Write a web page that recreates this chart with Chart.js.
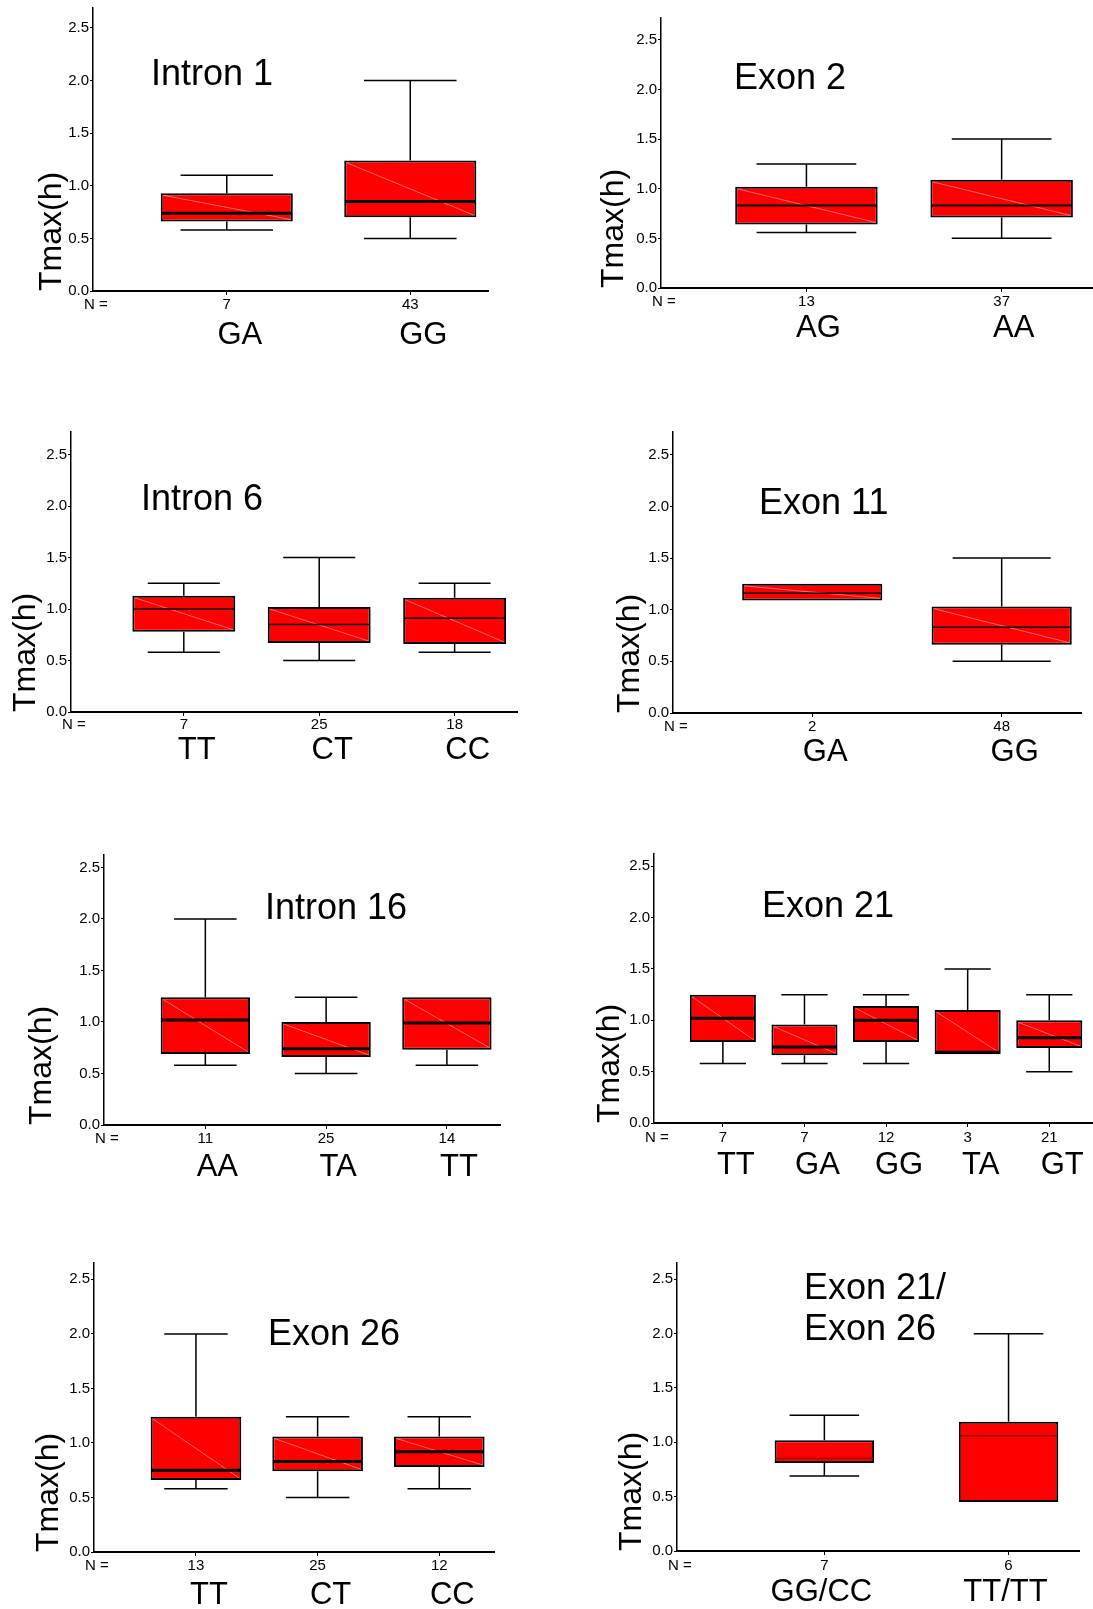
<!DOCTYPE html>
<html>
<head>
<meta charset="utf-8">
<script src="https://cdn.jsdelivr.net/npm/chart.js@4.4.1/dist/chart.umd.min.js"></script>
<style>
  html, body { margin: 0; padding: 0; background: #fff; overflow: hidden; }
  body { width: 1093px; height: 1609px; position: relative; }
  canvas { position: absolute; }
</style>
</head>
<body>
<script>
const FONT = '"Liberation Sans", Arial, Helvetica, sans-serif';
Chart.defaults.font.family = FONT;
Chart.defaults.color = '#000';

const yTicks = [0, 0.5, 1.0, 1.5, 2.0, 2.5];

// Intron 1
const intron1Genotypes = ['GA', 'GG'];
const intron1N = [7, 43];
const intron1Low = [0.58, 0.50];
const intron1Q1 = [0.66, 0.70];
const intron1Median = [0.74, 0.85];
const intron1Q3 = [0.93, 1.24];
const intron1High = [1.10, 2.00];

// Exon 2
const exon2Genotypes = ['AG', 'AA'];
const exon2N = [13, 37];
const exon2Low = [0.56, 0.50];
const exon2Q1 = [0.64, 0.71];
const exon2Median = [0.83, 0.83];
const exon2Q3 = [1.02, 1.09];
const exon2High = [1.25, 1.50];

// Intron 6
const intron6Genotypes = ['TT', 'CT', 'CC'];
const intron6N = [7, 25, 18];
const intron6Low = [0.58, 0.50, 0.58];
const intron6Q1 = [0.78, 0.67, 0.66];
const intron6Median = [1.00, 0.85, 0.91];
const intron6Q3 = [1.13, 1.02, 1.11];
const intron6High = [1.25, 1.50, 1.25];

// Exon 11
const exon11Genotypes = ['GA', 'GG'];
const exon11N = [2, 48];
const exon11Low = [1.09, 0.50];
const exon11Q1 = [1.09, 0.66];
const exon11Median = [1.16, 0.83];
const exon11Q3 = [1.25, 1.03];
const exon11High = [1.25, 1.50];

// Intron 16
const intron16Genotypes = ['AA', 'TA', 'TT'];
const intron16N = [11, 25, 14];
const intron16Low = [0.58, 0.50, 0.58];
const intron16Q1 = [0.69, 0.66, 0.73];
const intron16Median = [1.02, 0.74, 0.99];
const intron16Q3 = [1.24, 1.00, 1.24];
const intron16High = [2.00, 1.24, 1.24];

// Exon 21
const exon21Genotypes = ['TT', 'GA', 'GG', 'TA', 'GT'];
const exon21N = [7, 7, 12, 3, 21];
const exon21Low = [0.58, 0.58, 0.58, 0.67, 0.50];
const exon21Q1 = [0.79, 0.66, 0.79, 0.67, 0.73];
const exon21Median = [1.02, 0.74, 1.00, 0.69, 0.83];
const exon21Q3 = [1.25, 0.96, 1.14, 1.10, 1.00];
const exon21High = [1.25, 1.25, 1.25, 1.50, 1.25];

// Exon 26
const exon26Genotypes = ['TT', 'CT', 'CC'];
const exon26N = [13, 25, 12];
const exon26Low = [0.58, 0.50, 0.58];
const exon26Q1 = [0.66, 0.74, 0.78];
const exon26Median = [0.75, 0.83, 0.92];
const exon26Q3 = [1.24, 1.06, 1.06];
const exon26High = [2.00, 1.24, 1.24];

// Exon 21 / Exon 26 combined
const comboGenotypes = ['GG/CC', 'TT/TT'];
const comboN = [7, 6];
const comboLow = [0.69, 0.45];
const comboQ1 = [0.81, 0.45];
const comboMedian = [0.85, 1.06];
const comboQ3 = [1.02, 1.19];
const comboHigh = [1.25, 2.00];

// page layout of each panel (pixels on the page)
const panels = [
  { title: ['Intron 1'], genotypes: intron1Genotypes, n: intron1N, low: intron1Low, q1: intron1Q1, median: intron1Median, q3: intron1Q3, high: intron1High,
    col: 0, axisX: 93, axisTop: 8, axisY: 291, axisRight: 489, xMin: 0.271, xMax: 2.429, yMax: 2.69,
    nY: 305, catY: 335, labelShift: 13, titleX: 151, titleY: 73, yTitleX: 52, medianWidth: 3, barPct: 0.72, diag: true },
  { title: ['Exon 2'], genotypes: exon2Genotypes, n: exon2N, low: exon2Low, q1: exon2Q1, median: exon2Median, q3: exon2Q3, high: exon2High,
    col: 1, axisX: 661, axisTop: 18, axisY: 288, axisRight: 1093, xMin: 0.255, xMax: 2.468, yMax: 2.72,
    nY: 302, catY: 328, labelShift: 12, titleX: 734, titleY: 77, yTitleX: 614, medianWidth: 2, barPct: 0.73, diag: true },
  { title: ['Intron 6'], genotypes: intron6Genotypes, n: intron6N, low: intron6Low, q1: intron6Q1, median: intron6Median, q3: intron6Q3, high: intron6High,
    col: 0, axisX: 71, axisTop: 432, axisY: 712, axisRight: 518, xMin: 0.167, xMax: 3.468, yMax: 2.72,
    nY: 725, catY: 750, labelShift: 13, titleX: 141, titleY: 498, yTitleX: 26, medianWidth: 1.5, barPct: 0.76, diag: true },
  { title: ['Exon 11'], genotypes: exon11Genotypes, n: exon11N, low: exon11Low, q1: exon11Q1, median: exon11Median, q3: exon11Q3, high: exon11High,
    col: 1, axisX: 673, axisTop: 432, axisY: 713, axisRight: 1082, xMin: 0.265, xMax: 2.424, yMax: 2.72,
    nY: 727, catY: 752, labelShift: 13, titleX: 759, titleY: 502, yTitleX: 630, medianWidth: 1.5, barPct: 0.74, diag: true },
  { title: ['Intron 16'], genotypes: intron16Genotypes, n: intron16N, low: intron16Low, q1: intron16Q1, median: intron16Median, q3: intron16Q3, high: intron16High,
    col: 0, axisX: 104, axisTop: 855, axisY: 1125, axisRight: 501, xMin: 0.161, xMax: 3.448, yMax: 2.62,
    nY: 1139, catY: 1167, labelShift: 12, titleX: 265, titleY: 907, yTitleX: 42, medianWidth: 3, barPct: 0.74, diag: true },
  { title: ['Exon 21'], genotypes: exon21Genotypes, n: exon21N, low: exon21Low, q1: exon21Q1, median: exon21Median, q3: exon21Q3, high: exon21High,
    col: 1, axisX: 654, axisTop: 854, axisY: 1123, axisRight: 1093, xMin: 0.156, xMax: 5.536, yMax: 2.62,
    nY: 1138, catY: 1165, labelShift: 13, titleX: 762, titleY: 905, yTitleX: 610, medianWidth: 3, barPct: 0.81, diag: true },
  { title: ['Exon 26'], genotypes: exon26Genotypes, n: exon26N, low: exon26Low, q1: exon26Q1, median: exon26Median, q3: exon26Q3, high: exon26High,
    col: 0, axisX: 94, axisTop: 1263, axisY: 1552, axisRight: 495, xMin: 0.162, xMax: 3.458, yMax: 2.65,
    nY: 1566, catY: 1595, labelShift: 13, titleX: 268, titleY: 1333, yTitleX: 49, medianWidth: 3, barPct: 0.745, diag: true },
  { title: ['Exon 21/', 'Exon 26'], genotypes: comboGenotypes, n: comboN, low: comboLow, q1: comboQ1, median: comboMedian, q3: comboQ3, high: comboHigh,
    col: 1, axisX: 677, axisTop: 1263, axisY: 1551, axisRight: 1080, xMin: 0.200, xMax: 2.388, yMax: 2.65,
    nY: 1566, catY: 1592, labelShift: -3, titleX: 804, titleY: 1287, yTitleX: 632, medianWidth: 1.5, medianColor: '#9a0000', barPct: 0.54, diag: false }
];

// whiskers, medians and the texts placed inside the plot
function boxPlugin(p) {
  return {
    id: 'boxExtras',
    afterDatasetsDraw(chart) {
      const ctx = chart.ctx;
      const xs = chart.scales.x;
      const ys = chart.scales.y;
      const area = chart.chartArea;
      const bars = chart.getDatasetMeta(0).data;
      ctx.save();
      p.genotypes.forEach((g, i) => {
        const bar = bars[i];
        const cx = xs.getPixelForValue(i + 1);
        const hw = bar.width / 2;
        const yQ1 = ys.getPixelForValue(p.q1[i]);
        const yQ3 = ys.getPixelForValue(p.q3[i]);
        if (p.diag) {
          ctx.strokeStyle = 'rgba(255,170,170,0.9)';
          ctx.lineWidth = 0.7;
          ctx.beginPath();
          ctx.moveTo(cx - hw + 2, yQ3 + 2);
          ctx.lineTo(cx + hw - 2, yQ1 - 2);
          ctx.stroke();
        }
        ctx.strokeStyle = '#000';
        ctx.lineWidth = 1.5;
        const cap = hw * 0.7;
        if (p.high[i] > p.q3[i]) {
          const yHi = ys.getPixelForValue(p.high[i]);
          ctx.beginPath();
          ctx.moveTo(cx, yQ3); ctx.lineTo(cx, yHi);
          ctx.moveTo(cx - cap, yHi); ctx.lineTo(cx + cap, yHi);
          ctx.stroke();
        }
        if (p.low[i] < p.q1[i]) {
          const yLo = ys.getPixelForValue(p.low[i]);
          ctx.beginPath();
          ctx.moveTo(cx, yQ1); ctx.lineTo(cx, yLo);
          ctx.moveTo(cx - cap, yLo); ctx.lineTo(cx + cap, yLo);
          ctx.stroke();
        }
        const yMed = ys.getPixelForValue(p.median[i]);
        ctx.strokeStyle = p.medianColor || '#000';
        ctx.lineWidth = p.medianWidth;
        ctx.beginPath();
        ctx.moveTo(cx - hw + 1, yMed); ctx.lineTo(cx + hw - 1, yMed);
        ctx.stroke();
      });

      ctx.fillStyle = '#000';
      // N =
      ctx.font = '15px ' + FONT;
      ctx.textAlign = 'center';
      ctx.textBaseline = 'middle';
      ctx.fillText('N =', area.left + 3, area.bottom + (p.nY - p.axisY));

      // panel title
      ctx.font = '36px ' + FONT;
      ctx.textAlign = 'left';
      p.title.forEach((line, k) => {
        ctx.fillText(line, area.left + (p.titleX - p.axisX), area.top + (p.titleY - p.axisTop) + 2 + k * 41);
      });

      // y axis title, starting at the x axis and reading upwards
      ctx.font = '32px ' + FONT;
      ctx.translate(area.left + (p.yTitleX - p.axisX), area.bottom);
      ctx.rotate(-Math.PI / 2);
      ctx.textAlign = 'left';
      ctx.fillText('Tmax(h)', 0, 0);
      ctx.restore();
    }
  };
}

function makePanel(p) {
  const left = p.col === 0 ? 0 : 546;
  const top = p.axisTop - 12;
  const h1 = p.nY - p.axisY + 10;
  const h2 = p.catY + 21 - (p.axisY + h1);
  const width = p.axisRight - left;
  const height = p.axisY - top + h1 + h2;
  const canvas = document.createElement('canvas');
  canvas.width = width;
  canvas.height = height;
  canvas.style.left = left + 'px';
  canvas.style.top = top + 'px';
  canvas.style.width = width + 'px';
  canvas.style.height = height + 'px';
  document.body.appendChild(canvas);

  const positions = p.genotypes.map((g, i) => i + 1);
  const setCatTicks = s => { s.ticks = positions.map(v => ({ value: v })); };
  const fixRange = s => { s.min = p.xMin; s.max = p.xMax; };

  new Chart(canvas, {
    type: 'bar',
    data: {
      datasets: [{
        data: positions.map((x, i) => ({ x: x, y: [p.q1[i], p.q3[i]] })),
        backgroundColor: '#ff0000',
        borderColor: '#000',
        borderWidth: 2,
        borderSkipped: false,
        barPercentage: p.barPct,
        categoryPercentage: 1
      }]
    },
    options: {
      responsive: false,
      animation: false,
      events: [],
      layout: { padding: { top: 12, left: 0, right: 0, bottom: 0 } },
      plugins: { legend: { display: false }, tooltip: { enabled: false } },
      scales: {
        x: {
          type: 'linear', position: 'bottom', weight: 0, offset: false,
          min: p.xMin, max: p.xMax, bounds: 'data',
          afterDataLimits: fixRange,
          afterBuildTicks: s => { fixRange(s); setCatTicks(s); },
          afterFit: s => { s.height = h1; },
          ticks: { callback: (v, i) => String(p.n[i]), font: { size: 15 }, color: '#000',
                   padding: p.nY - p.axisY - 13, maxRotation: 0, autoSkip: false },
          grid: { display: true, offset: false, drawOnChartArea: false, drawTicks: true, tickLength: 4, color: '#000' },
          border: { display: true, color: '#000', width: 2 }
        },
        x2: {
          type: 'linear', position: 'bottom', weight: 1, offset: false,
          min: p.xMin, max: p.xMax, bounds: 'data',
          afterDataLimits: fixRange,
          afterBuildTicks: s => { fixRange(s); setCatTicks(s); },
          afterFit: s => { s.height = h2; },
          ticks: { callback: (v, i) => p.genotypes[i], font: { size: 31 }, color: '#000',
                   padding: p.catY - (p.axisY + h1) - 18.6, labelOffset: p.labelShift, maxRotation: 0, autoSkip: false },
          grid: { display: false, offset: false, drawTicks: false },
          border: { display: false }
        },
        y: {
          min: 0, max: p.yMax,
          afterBuildTicks: s => { s.ticks = yTicks.map(v => ({ value: v })); },
          afterFit: s => { s.width = p.axisX - left; },
          ticks: { callback: v => v.toFixed(1), font: { size: 15 }, color: '#000', padding: 1, autoSkip: false },
          grid: { display: true, drawOnChartArea: false, tickLength: 3, color: '#000' },
          border: { display: true, color: '#000', width: 1.5 }
        }
      }
    },
    plugins: [boxPlugin(p)]
  });
}

panels.forEach(makePanel);
</script>
</body>
</html>
